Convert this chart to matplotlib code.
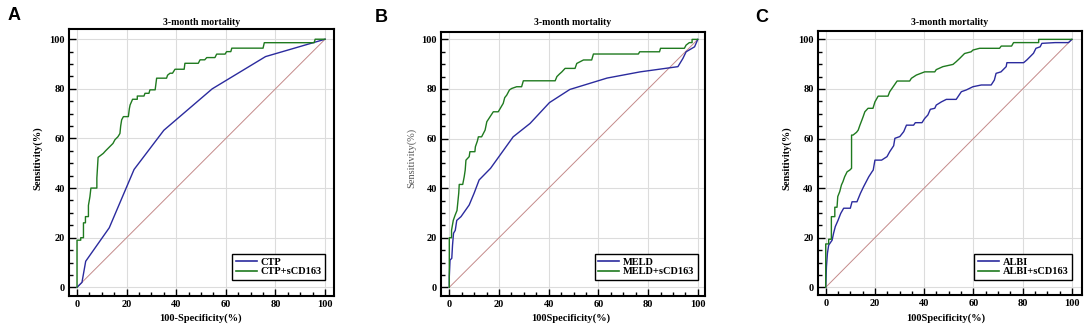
import matplotlib
matplotlib.use("Agg")
import matplotlib.pyplot as plt
from matplotlib.ticker import MultipleLocator

# ---------------- data ----------------
diag_x = [0, 100]
diag_y = [0, 100]

# Panel A : CTP
A_ctp_x = [0, 2, 3.5, 13, 23, 35, 54.5, 76, 100]
A_ctp_y = [0, 2, 10.5, 24, 47.5, 63.3, 80, 93, 100]
A_comb_x = [0, 0, 1.5, 1.5, 2.6, 2.6, 3.4, 3.4, 4.6, 4.6, 5.2, 5.6, 8, 8, 8.5, 9.3, 10.6, 11.5,
            12.5, 13.5, 14.5, 15.3, 16.5, 17.3, 17.6, 18, 18.7, 20.7, 21.1, 21.4, 22.4, 24.3,
            24.3, 27, 27.4, 29, 29.4, 31.5, 32.1, 36.1, 36.5, 37.5, 38.5, 39.5, 43.2, 43.5,
            48.9, 49.6, 51.5, 52.3, 55.6, 56.3, 59.7, 60.3, 62, 62.4, 75, 75.5, 95.6, 96, 100]
A_comb_y = [0, 19, 19, 20, 20, 26, 26, 28.5, 28.5, 33, 36.5, 40, 40, 44, 52.4, 53, 54, 55,
            56, 57, 58, 59.5, 60.7, 62, 65, 67.5, 68.8, 68.8, 72, 73.5, 75.8, 75.8,
            77.1, 77.1, 78.2, 78.2, 79.6, 79.6, 84.3, 84.3, 85.5, 86.3, 86.3, 87.9, 87.9, 90.3,
            90.3, 91.7, 91.7, 92.6, 92.6, 94, 94, 95, 95, 96.4, 96.4, 98.6, 98.6, 100, 100]

# Panel B : MELD
B_meld_x = [0, 0, 0.3, 1, 1.3, 1.7, 2.4, 3, 4.7, 8, 10, 12, 16.6, 25.7, 32.5, 40.3, 48.5,
            63.5, 76.8, 92, 94, 95.3, 98.7, 100]
B_meld_y = [0, 4.3, 11, 11.7, 17, 21.8, 23, 27, 28.5, 33.2, 38, 43.3, 48, 60.7, 66.1, 74.5,
            79.8, 84.4, 86.9, 89, 92.3, 95, 97, 100]
B_comb_x = [0, 0, 0.9, 0.9, 1.6, 2.3, 3.1, 3.4, 3.8, 4, 5.4, 6, 6.4, 6.7, 8, 8.3, 10.3, 10.5,
            11.3, 11.7, 13, 14.4, 15.1, 16.4, 17.7, 19.7, 20.7, 21.7, 22.3, 23.1, 24.2, 25.1,
            27.1, 29.1, 29.8, 42.6, 43.3, 44.3, 45.3, 46.6, 50.6, 51.3, 54, 57.3, 58, 76.1,
            76.6, 84.6, 85, 94.6, 95.3, 96.6, 97.7, 97.7, 100]
B_comb_y = [0, 20, 20, 23, 27, 29, 31, 34, 38, 41.5, 41.5, 44.6, 47.3, 51.3, 52.7, 54.7, 54.7,
            56.7, 59, 60.7, 60.7, 63.4, 66.8, 68.8, 70.8, 70.8, 72.5, 74.2, 76.5, 77.5, 79.6,
            80.2, 80.9, 80.9, 83.3, 83.3, 85, 86, 86.9, 88.3, 88.3, 90.3, 91.7, 91.7, 94.1,
            94.1, 95, 95, 96.4, 96.4, 97.7, 98.7, 98.7, 100, 100]

# Panel C : ALBI
C_albi_x = [0, 0.3, 0.7, 1.2, 2.6, 3.2, 3.9, 5, 6.1, 7.3, 10, 10.7, 12.7, 14.1, 15.4, 17.5,
            18.8, 19.3, 20, 22.7, 24.9, 26, 27.6, 28.1, 30.1, 31.7, 32.8, 35.7, 36.4, 39.1,
            40.2, 41.5, 42.5, 44.3, 44.9, 47, 49, 53, 55.1, 57.1, 59.8, 63.2, 67.2, 68.5,
            69.2, 71.2, 73.3, 73.6, 80.4, 81.7, 83, 84.4, 85.4, 87.1, 87.8, 93.2, 98.6, 100]
C_albi_y = [0, 8.3, 13.7, 17, 19, 21.8, 24.5, 27, 29.8, 31.9, 31.9, 34.5, 34.5, 37.9, 40.6,
            44.6, 46.6, 47.3, 51.3, 51.3, 52.7, 54.7, 57.1, 60.1, 60.8, 62.8, 65.4, 65.4,
            66.4, 66.4, 68.1, 69.5, 71.8, 72.2, 73.5, 74.8, 75.8, 75.8, 78.9, 79.6, 80.9,
            81.6, 81.6, 83.6, 86.3, 86.9, 89, 90.6, 90.6, 91.7, 93, 94.4, 96.4, 97, 98.4,
            98.7, 98.7, 100]
C_comb_x = [0, 0, 1.2, 1.2, 2.3, 2.3, 3.7, 3.7, 4.6, 4.9, 5.7, 6.4, 7, 7.7, 8.7, 9.8, 10.5,
            10.5, 11.1, 12.5, 13.2, 13.9, 14.6, 15.2, 15.9, 17.2, 19.2, 20, 21.3, 25.3, 26,
            27.4, 29, 34.1, 34.8, 36.8, 40.2, 44.3, 44.9, 47.6, 51.7, 53, 54.4, 56.4, 59.1,
            59.8, 62.5, 70.6, 71.3, 75.5, 76.3, 86.5, 86.5, 100]
C_comb_y = [0, 17.5, 17.5, 19.4, 19.4, 28.5, 28.5, 32.3, 32.3, 36.6, 38.6, 41.3, 42.6, 44.6,
            46.6, 47.3, 48, 61.4, 61.4, 62.5, 63.4, 65.4, 67.2, 68.8, 70.8, 72.2, 72.2, 74.8,
            77.1, 77.1, 78.9, 80.9, 83.2, 83.2, 84.3, 85.6, 86.9, 86.9, 87.8, 89, 89.9, 91,
            92.3, 94.3, 95, 95.7, 96.4, 96.4, 97.3, 97.3, 98.7, 98.7, 100, 100]

panel_letters = ["A", "B", "C"]
titles = ["3-month mortality"] * 3
xlabels = ["100-Specificity(%)", "100Specificity(%)", "100Specificity(%)"]
ylabel = "Sensitivity(%)"
legend_labels = [["CTP", "CTP+sCD163"], ["MELD", "MELD+sCD163"], ["ALBI", "ALBI+sCD163"]]
series = [(A_ctp_x, A_ctp_y, A_comb_x, A_comb_y),
          (B_meld_x, B_meld_y, B_comb_x, B_comb_y),
          (C_albi_x, C_albi_y, C_comb_x, C_comb_y)]

# ---------------- style / layout ----------------
plt.rcParams['font.family'] = ['Liberation Serif', 'DejaVu Serif']
W, H = 1084, 326
fig = plt.figure(figsize=(W / 100, H / 100), dpi=100)

# frame pixel boxes (left, right, top, bottom) and limits
frames = [(69, 334, 29.3, 296), (441, 705, 31.7, 296), (817.7, 1082, 30.7, 295)]
xlims = [(-3.23, 103.6), (-3.34, 102.9), (-3.25, 104.1)]
ylims = [(-3.5, 104.0), (-3.5, 103.1), (-3.1, 103.5)]
letter_pos = [(14, 16), (381, 17), (762, 17)]
xlabel_x = [200, 571, 946]
ylabel_x = [38, 411, 787]

blue = '#2b2b9e'
green = '#1f7a1f'
diag_col = '#c48a8a'

for i in range(3):
    l, r, t, b = frames[i]
    ax = fig.add_axes([l / W, 1 - b / H, (r - l) / W, (b - t) / H])
    ax.set_xlim(*xlims[i])
    ax.set_ylim(*ylims[i])
    ax.xaxis.set_major_locator(MultipleLocator(20))
    ax.yaxis.set_major_locator(MultipleLocator(20))
    ax.xaxis.set_minor_locator(MultipleLocator(5))
    ax.yaxis.set_minor_locator(MultipleLocator(5))
    ax.grid(which='major', color='#dcdcdc', lw=0.8, zorder=0)
    ax.set_axisbelow(True)
    ax.tick_params(which='major', direction='in', length=5, width=1.0, pad=3,
                   labelsize=7.5)
    ax.tick_params(which='minor', direction='in', length=3, width=1.0)
    for lab in ax.get_xticklabels() + ax.get_yticklabels():
        lab.set_fontweight('bold')
    for sp in ax.spines.values():
        sp.set_linewidth(1.5)

    x1, y1, x2, y2 = series[i]
    ax.plot(diag_x, diag_y, color=diag_col, lw=0.7, zorder=2)
    ax.plot(x1, y1, color=blue, lw=1.0, label=legend_labels[i][0], zorder=3)
    ax.plot(x2, y2, color=green, lw=1.0, label=legend_labels[i][1], zorder=4)

    leg = ax.legend(loc='lower right', bbox_to_anchor=(100, 3),
                    bbox_transform=ax.transData, borderaxespad=0,
                    prop={'weight': 'bold', 'size': 7.5}, fancybox=False,
                    edgecolor='black', framealpha=1, handlelength=2.0,
                    handletextpad=0.35, labelspacing=0.0, borderpad=0.35)
    leg.get_frame().set_linewidth(1.0)
    for ln in leg.get_lines():
        ln.set_linewidth(1.2)

    fig.text((l + r) / 2 / W, 1 - 22.5 / H, titles[i], ha='center', va='center',
             fontsize=7, fontweight='bold')
    fig.text(xlabel_x[i] / W, 1 - 318.5 / H, xlabels[i], ha='center', va='center',
             fontsize=7.5, fontweight='bold')
    if i == 1:
        fig.text(ylabel_x[i] / W, 1 - 158 / H, ylabel, ha='center', va='center',
                 rotation=90, fontsize=7.5, color='#555555')
    else:
        fig.text(ylabel_x[i] / W, 1 - 158 / H, ylabel, ha='center', va='center',
                 rotation=90, fontsize=7.5, fontweight='bold')
    lx, ly = letter_pos[i]
    fig.text(lx / W, 1 - ly / H, panel_letters[i], ha='center', va='center',
             fontsize=13, fontweight='bold', family='Liberation Sans')

fig.savefig('out.png', dpi=100)
